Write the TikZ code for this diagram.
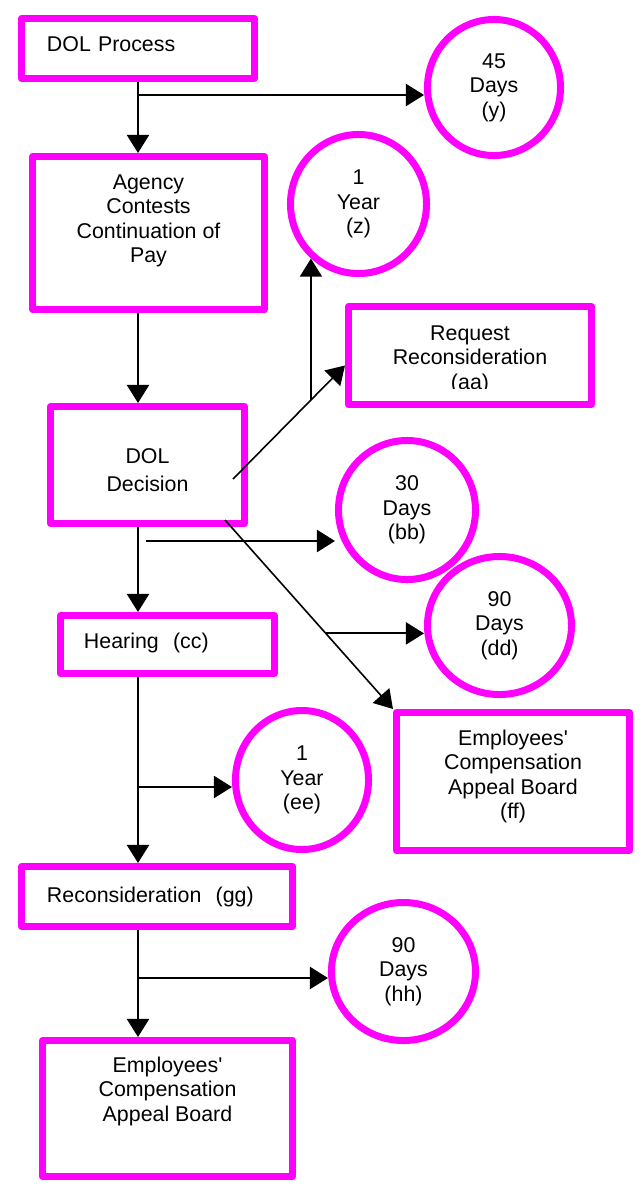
\documentclass[tikz,border=0pt]{standalone}
\usepackage{fontspec}
\setmainfont{Liberation Sans}
\usepackage{tikz}
\usetikzlibrary{arrows.meta, positioning, shapes, calc}
\definecolor{dolmagenta}{HTML}{FF00FF}
\tikzset{
  procnode/.style={draw=dolmagenta,line width=0.175cm,line join=round,align=center,
    inner ysep=0pt,text height=0.8125cm,font=\fontsize{15.2}{17.4}\selectfont},
  leftnode/.style={procnode,align=left,inner xsep=0.6375cm},
  timenode/.style={ellipse,draw=dolmagenta,line width=0.175cm,inner sep=0pt,align=center,
    font=\fontsize{15.2}{17.4}\selectfont},
  flowedge/.style={-{Triangle[width=0.55cm,length=0.45cm]},line width=0.05cm,black},
  slantedge/.style={flowedge,line width=0.04cm},
}

\begin{document}
\begin{tikzpicture}[x=0.025cm,y=-0.025cm]
  \useasboundingbox (0,0) rectangle (641,1184);
  % ---- main column ----
  \node[leftnode,text width=4.55cm,text depth=0.6875cm] (dolproc) at (138,48.5) {DOL Process};
  \node[procnode,minimum width=5.8cm,text height=2.65cm,text depth=1.175cm] (agency) at (148.5,233) {Agency\\Contests\\Continuation of\\Pay};
  \node[procnode,minimum width=4.85cm,text height=2.1125cm,text depth=0.8125cm] (doldec) at (147.5,465) {DOL\\[2.2pt]Decision};
  \node[leftnode,inner xsep=0.5875cm,text width=4.175cm,text depth=0.6375cm] (hearing) at (167.5,644.5) {Hearing~~(cc)};
  \node[leftnode,text width=5.5cm,text height=0.8875cm,text depth=0.6125cm] (recon) at (157,896.5) {Reconsideration~~(gg)};
  \node[procnode,minimum width=6.25cm,text height=2.0125cm,text depth=1.3875cm] (ecab) at (167.5,1108.5) {Employees\textquotesingle\\Compensation\\Appeal Board};
  % ---- side boxes ----
  \node[procnode,minimum width=6.075cm,minimum height=2.45cm] (reqrecon) at (470,355.5) {};
  \begin{scope}
    % the last line of this box is cut off in the original
    \clip (350,300) rectangle (590,388);
    \node[procnode,draw=none,anchor=base] (reqtext) at (470,389) {Request\\Reconsideration\\(aa)};
  \end{scope}
  \node[procnode,minimum width=5.825cm,text height=2.65cm,text depth=0.8cm] (ecabff) at (513,781.5) {Employees\textquotesingle\\Compensation\\Appeal Board\\(ff)};
  % ---- time limits ----
  \node[timenode,minimum width=3.325cm,minimum height=3.4cm] (days45) at (494,87.5) {45\\Days\\(y)};
  \node[timenode,minimum width=3.4cm,minimum height=3.475cm] (yearz) at (358.5,204) {1\\Year\\(z)};
  \node[timenode,minimum width=3.425cm,minimum height=3.475cm] (days30) at (407,510) {30\\Days\\(bb)};
  \node[timenode,minimum width=3.6cm,minimum height=3.45cm] (days90dd) at (499.5,625.5) {90\\Days\\(dd)};
  \node[timenode,minimum width=3.325cm,minimum height=3.475cm] (yearee) at (302,780) {1\\Year\\(ee)};
  \node[timenode,minimum width=3.6cm,minimum height=3.45cm] (days90hh) at (403.5,971.5) {90\\Days\\(hh)};
  % ---- junctions ----
  \coordinate (tap45) at (138,95);
  \coordinate (decR) at (233,479);
  \coordinate (decB) at (225,520);
  \coordinate (tap30) at (146,541);
  \coordinate (tapee) at (138,787);
  \coordinate (taphh) at (138,978);
  \path (decR) -- ([yshift=-0.25cm]reqrecon.west) coordinate[pos=0.696] (kinkz);
  \path (decB) -- (ecabff.north west) coordinate[pos=0.6] (tap90);
  % ---- connectors ----
  \draw[flowedge] (dolproc.south) -- (agency.north -| dolproc.south);
  \draw[flowedge] (tap45) -- (tap45 -| days45.west);
  \draw[flowedge] (agency.south -| dolproc.south) -- (doldec.north -| dolproc.south);
  \draw[slantedge] (decR) -- ([yshift=-0.25cm]reqrecon.west);
  \draw[slantedge] (kinkz) -- (kinkz |- yearz.229);
  \draw[flowedge] (doldec.south -| dolproc.south) -- (hearing.north -| dolproc.south);
  \draw[flowedge] (tap30) -- (tap30 -| days30.west);
  \draw[slantedge] (decB) -- (ecabff.north west);
  \draw[flowedge] (tap90) -- (tap90 -| days90dd.west);
  \draw[flowedge] (hearing.south -| dolproc.south) -- (recon.north -| dolproc.south);
  \draw[flowedge] (tapee) -- (tapee -| yearee.west);
  \draw[flowedge] (recon.south -| dolproc.south) -- (ecab.north -| dolproc.south);
  \draw[flowedge] (taphh) -- (taphh -| days90hh.west);
\end{tikzpicture}
\end{document}
